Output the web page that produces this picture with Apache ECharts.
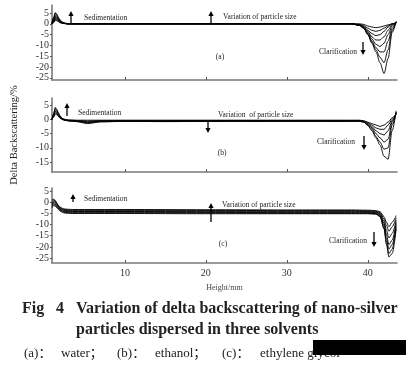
<!DOCTYPE html>
<html><head><meta charset="utf-8">
<script src="https://cdn.jsdelivr.net/npm/echarts@6/dist/echarts.min.js"></script>
<style>html,body{margin:0;padding:0;background:#fff}#c{width:412px;height:368px}</style>
</head><body><div id="c"></div>
<script>
// ---- data ----
const xTicks = [10, 20, 30, 40];
const yTicksA = [5, 0, -5, -10, -15, -20, -25];
const yTicksB = [5, 0, -5, -10, -15];
const yTicksC = [5, 0, -5, -10, -15, -20, -25];

// panel (a) water
const xA = [1, 1.2, 1.4, 1.6, 1.8, 2, 2.3, 2.6, 3, 3.5, 5, 10, 20, 30, 38, 39, 39.5, 40, 40.5, 41, 41.5, 42, 42.5, 43, 43.5];
const a1 = [0.5, 3, 5.2, 4.5, 3, 1.8, 0.8, 0.3, 0.1, 0, 0, 0, 0, 0, 0, 0, -0.3, -1, -1.5, -1.8, -1.5, -1, -0.5, 0, 0.3];
const a2 = [0.3, 2.5, 4.8, 4, 2.6, 1.5, 0.6, 0.2, 0, 0, 0, 0, 0, 0, 0, -0.3, -0.8, -2, -3, -3.5, -3, -2, -1, 0, 0.5];
const a3 = [0.2, 2, 4.2, 3.5, 2.2, 1.2, 0.5, 0.2, 0, 0, 0, 0, 0, 0, 0, -0.5, -1.2, -3, -4.5, -5.5, -5, -3.5, -1.5, 0, 0.5];
const a4 = [0, 1.5, 3.5, 3, 2, 1, 0.4, 0.1, 0, 0, 0, 0, 0, 0, 0, -0.6, -1.5, -3.5, -6, -7.5, -7.5, -6, -3, -0.5, 0.5];
const a5 = [0, 1.2, 3, 2.6, 1.7, 0.9, 0.4, 0.1, 0, 0, 0, 0, 0, 0, 0, -0.7, -1.8, -4, -7, -9.5, -10.5, -9, -5, -1, 0.8];
const a6 = [0, 1, 2.5, 2.2, 1.5, 0.8, 0.3, 0.1, 0, 0, 0, 0, 0, 0, 0, -0.8, -2, -4.5, -8, -11, -13, -13, -8, -2, 1];
const a7 = [0, 0.8, 2, 1.8, 1.2, 0.6, 0.3, 0.1, 0, 0, 0, 0, 0, 0, 0, -0.8, -2, -5, -8.5, -12, -15.5, -18, -12, -3, 1];
const a8 = [0, 0.5, 1.5, 1.4, 1, 0.5, 0.2, 0.1, 0, 0, 0, 0, 0, 0, 0, -0.8, -2.2, -5, -9, -13, -18, -23, -16, -4, 1];

// panel (b) ethanol
const xB = [1, 1.2, 1.4, 1.6, 1.8, 2, 2.3, 2.6, 3, 4, 5.4, 7, 10, 15, 20, 30, 38, 39, 39.5, 40, 40.5, 41, 41.5, 42, 42.5, 43, 43.5];
const b1 = [0, 2, 4.2, 3.5, 2.2, 1.2, 0.3, 0, -0.2, -0.3, -0.3, -0.3, -0.3, -0.3, -0.3, -0.3, -0.3, -0.3, -0.5, -1, -1.5, -2, -2.5, -2, -1, 0.5, 2];
const b2 = [0, 1.8, 3.8, 3.2, 2, 1, 0.2, -0.1, -0.3, -0.4, -0.6, -0.4, -0.4, -0.4, -0.4, -0.4, -0.4, -0.4, -0.6, -1.2, -2, -3, -3.5, -3.5, -2, 0, 2];
const b3 = [0, 1.5, 3.3, 2.8, 1.7, 0.8, 0.1, -0.2, -0.4, -0.6, -1, -0.7, -0.6, -0.6, -0.5, -0.5, -0.5, -0.5, -0.8, -1.5, -2.5, -4, -5, -5.5, -4, -0.5, 2];
const b4 = [0, 1.2, 2.8, 2.4, 1.4, 0.6, 0, -0.3, -0.5, -0.8, -1.5, -0.9, -0.7, -0.7, -0.6, -0.6, -0.6, -0.6, -0.9, -1.8, -3, -5, -6.5, -8, -7, -1, 2.5];
const b5 = [0, 1, 2.3, 2, 1.2, 0.5, 0, -0.3, -0.5, -0.7, -1.2, -0.8, -0.7, -0.7, -0.7, -0.7, -0.7, -0.7, -1, -2, -3.5, -6, -8, -10.5, -10, -2, 2.5];
const b6 = [0, 0.8, 1.8, 1.6, 1, 0.4, -0.1, -0.3, -0.5, -0.6, -0.9, -0.7, -0.7, -0.8, -0.7, -0.7, -0.7, -0.7, -1, -2.2, -4, -6.5, -9, -13, -14, -4, 3];

// panel (c) ethylene glycol
const xC = [1, 1.2, 1.4, 1.6, 1.8, 2, 2.3, 2.6, 3, 3.5, 5, 10, 20, 30, 38, 40, 41, 41.5, 42, 42.3, 42.6, 43, 43.5];
const c1 = [1, 1.3, 0.8, -0.5, -1.5, -2.2, -2.8, -3.1, -3.2, -3.3, -3.3, -3.3, -3.4, -3.5, -3.5, -3.6, -3.8, -4.3, -6.5, -9, -11, -9, -6];
const c2 = [0.2, 1, 0.5, -0.7, -1.8, -2.5, -3.1, -3.4, -3.5, -3.6, -3.6, -3.6, -3.7, -3.8, -3.8, -3.9, -4.1, -4.7, -7.5, -10.5, -13, -11, -7];
const c3 = [-0.5, 0.5, 0, -1, -2, -2.8, -3.4, -3.7, -3.8, -3.9, -3.9, -3.9, -4, -4.1, -4.1, -4.2, -4.4, -5.1, -8.5, -12.5, -16, -14, -8];
const c4 = [-1, 0, -0.5, -1.4, -2.3, -3.1, -3.7, -4, -4.1, -4.2, -4.2, -4.2, -4.3, -4.4, -4.4, -4.5, -4.7, -5.5, -9.5, -14.5, -19, -17, -9];
const c5 = [-1.5, -0.5, -1, -1.8, -2.6, -3.4, -4, -4.3, -4.4, -4.5, -4.5, -4.5, -4.6, -4.7, -4.7, -4.8, -5, -5.9, -10.5, -16.5, -21, -19, -10];
const c6 = [-2, -1, -1.4, -2.2, -3, -3.7, -4.3, -4.6, -4.7, -4.8, -4.8, -4.8, -4.9, -5, -5, -5, -5.2, -6.2, -11.5, -18, -23, -21, -11];
const c7 = [-2.5, -1.5, -1.8, -2.5, -3.3, -4, -4.6, -4.9, -5, -5.1, -5.1, -5.1, -5.2, -5.2, -5.2, -5.2, -5.4, -6.5, -12, -19, -24.5, -23, -12];

const panelA = [a1, a2, a3, a4, a5, a6, a7, a8];
const panelB = [b1, b2, b3, b4, b5, b6];
const panelC = [c1, c2, c3, c4, c5, c6, c7];

// ---- chart ----
const SERIF = '"Liberation Serif", "DejaVu Serif", serif';
const chart = echarts.init(document.getElementById('c'), null, {renderer: 'canvas'});

const grids = [
  {left: 52, top: 5, width: 345, height: 75},
  {left: 52, top: 98, width: 345, height: 74},
  {left: 52, top: 188, width: 345, height: 75}
];
const yRanges = [[-26, 8.7], [-18.5, 7.5], [-27.2, 6.3]];
const yTicks = [yTicksA, yTicksB, yTicksC];

const axisLineStyle = {color: '#7a7a7a', width: 1.6};
const xAxes = grids.map((g, i) => ({
  type: 'value', gridIndex: i, min: 1, max: 43.6,
  splitLine: {show: false},
  axisLine: {show: true, onZero: false, lineStyle: axisLineStyle},
  axisTick: {show: true, inside: true, length: 3, customValues: xTicks, lineStyle: {color: '#555', width: 1}},
  axisLabel: {show: i === 2, customValues: xTicks, fontFamily: SERIF, fontSize: 10, color: '#333', margin: 5},
  name: i === 2 ? 'Height/mm' : '', nameLocation: 'middle', nameGap: 21,
  nameTextStyle: {fontFamily: SERIF, fontSize: 8, color: '#444'}
}));
const yAxes = grids.map((g, i) => ({
  type: 'value', gridIndex: i, min: yRanges[i][0], max: yRanges[i][1],
  splitLine: {show: false},
  axisLine: {show: true, onZero: false, lineStyle: axisLineStyle},
  axisTick: {show: true, inside: false, length: 2, customValues: yTicks[i], lineStyle: {color: '#555', width: 1}},
  axisLabel: {customValues: yTicks[i], fontFamily: SERIF, fontSize: 10, color: '#333', margin: 3}
}));

const series = [];
[[xA, panelA], [xB, panelB], [xC, panelC]].forEach(([xs, curves], i) => {
  curves.forEach(ys => {
    series.push({
      type: 'line', xAxisIndex: i, yAxisIndex: i, showSymbol: false, silent: true,
      smooth: 0.3, smoothMonotone: 'x', clip: true,
      lineStyle: {color: '#000', width: 0.9},
      data: xs.map((x, k) => [x, ys[k]])
    });
  });
});

function arrow(x, y1, y2) {
  const dir = y2 < y1 ? 1 : -1; // head at y2
  return {
    type: 'group', silent: true, children: [
      {type: 'line', shape: {x1: x, y1: y1, x2: x, y2: y2 + dir * 4}, style: {stroke: '#000', lineWidth: 1.3}},
      {type: 'polygon', shape: {points: [[x - 2.6, y2 + dir * 5], [x + 2.6, y2 + dir * 5], [x, y2]]}, style: {fill: '#000'}}
    ]
  };
}
function txt(x, y, s, size, align, extra, font) {
  return Object.assign({
    type: 'text', x: x, y: y, silent: true,
    style: {text: s, font: font || ((size || 7) + 'px ' + SERIF), fill: '#222', textAlign: align || 'left', textVerticalAlign: 'middle'}
  }, extra || {});
}
const CAP = 'bold 16px ' + SERIF;
const SUB = '13px ' + SERIF + ', "Noto Sans CJK SC"';

const graphic = [
  // panel a
  arrow(71, 23, 11), txt(84, 18, 'Sedimentation', 7.5),
  arrow(211, 23, 11), txt(223, 17, 'Variation of particle size', 7.5),
  txt(357, 52, 'Clarification', 7.5, 'right'), arrow(363, 42, 55),
  txt(220, 57, '(a)', 7.5, 'center'),
  // panel b
  arrow(67, 116, 103), txt(78, 113, 'Sedimentation', 7.5),
  arrow(208, 120, 133), txt(218, 115, 'Variation  of particle size', 7.5),
  txt(355, 142, 'Clarification', 7.5, 'right'), arrow(364, 136, 150),
  txt(222, 153, '(b)', 7.5, 'center'),
  // panel c
  arrow(73, 202, 194), txt(84, 199, 'Sedimentation', 7.5),
  arrow(211, 222, 203), txt(222, 205, 'Variation of particle size', 7.5),
  txt(367, 241, 'Clarification', 7.5, 'right'), arrow(374, 232, 247),
  txt(223, 244, '(c)', 7.5, 'center'),
  // y title
  txt(14, 135, 'Delta Backscattering/%', 10.5, 'center', {rotation: Math.PI / 2}),
  // caption
  txt(22, 309, 'Fig', 0, 'left', null, CAP),
  txt(56, 309, '4', 0, 'left', null, CAP),
  txt(76, 309, 'Variation of delta backscattering of nano-silver', 0, 'left', null, CAP),
  txt(76, 330, 'particles dispersed in three solvents', 0, 'left', null, CAP),
  txt(24, 354, '(a)：', 0, 'left', null, SUB),
  txt(61, 354, 'water；', 0, 'left', null, SUB),
  txt(117, 354, '(b)：', 0, 'left', null, SUB),
  txt(155, 354, 'ethanol；', 0, 'left', null, SUB),
  txt(222, 354, '(c)：', 0, 'left', null, SUB),
  txt(260, 354, 'ethylene glycol', 0, 'left', null, SUB),
  {type: 'rect', silent: true, shape: {x: 313, y: 340, width: 93, height: 15}, style: {fill: '#000'}}
];

chart.setOption({
  animation: false,
  backgroundColor: '#fff',
  grid: grids,
  xAxis: xAxes,
  yAxis: yAxes,
  series: series,
  graphic: graphic
});
</script>
</body></html>
